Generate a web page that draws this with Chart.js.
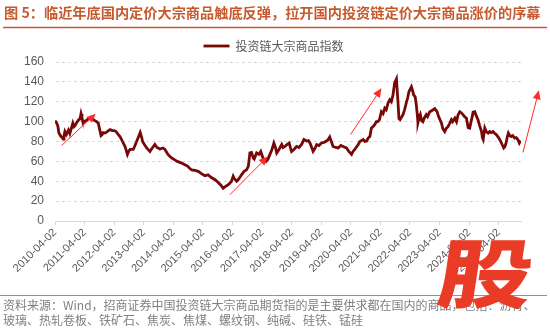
<!DOCTYPE html>
<html>
<head>
<meta charset="utf-8">
<script src="https://cdn.jsdelivr.net/npm/chart.js@4.4.1/dist/chart.umd.min.js"></script>
<style>
  html, body { margin: 0; padding: 0; background: #ffffff; }
  #wrap { position: relative; width: 550px; height: 331px; }
  canvas { display: block; }
</style>
</head>
<body>
<div id="wrap"><canvas id="c" width="550" height="331"></canvas></div>
<script>
// ---- text ----
const titleText = '图 5：临近年底国内定价大宗商品触底反弹，拉开国内投资链定价大宗商品涨价的序幕';
const sourceLines = [
  '资料来源：Wind，招商证券中国投资链大宗商品期货指的是主要供求都在国内的商品，包括：沥青、',
  '玻璃、热轧卷板、铁矿石、焦炭、焦煤、螺纹钢、纯碱、硅铁、锰硅'
];
const seriesName = '投资链大宗商品指数';
const badgeText = '股';

// ---- axes ----
const tickLabels = ['2010-04-02','2011-04-02','2012-04-02','2013-04-02','2014-04-02','2015-04-02',
  '2016-04-02','2017-04-02','2018-04-02','2019-04-02','2020-04-02','2021-04-02','2022-04-02',
  '2023-04-02','2024-04-02','2025-04-02'];
const xStart = '2010-04-02';
const xEnd = '2026-01-02';
const yMin = 0, yMax = 160, yStep = 20;

// ---- index series ----
const dates = [
  '2010-04-02','2010-04-20','2010-05-06','2010-05-20','2010-06-15','2010-07-05','2010-07-12','2010-07-22',
  '2010-08-02','2010-08-20','2010-09-15','2010-10-02','2010-10-20','2010-11-08','2010-11-22','2010-12-05',
  '2010-12-25','2011-01-15','2011-02-05','2011-02-17','2011-03-01','2011-03-15','2011-04-02','2011-04-28',
  '2011-05-25','2011-06-29','2011-07-20','2011-08-08','2011-08-28','2011-09-18','2011-10-03','2011-10-22',
  '2011-11-05','2011-11-17','2011-12-12','2012-01-06','2012-02-11','2012-03-08','2012-04-02','2012-04-25',
  '2012-05-23','2012-06-12','2012-07-02','2012-07-25','2012-08-14','2012-09-12','2012-09-27','2012-10-15',
  '2012-11-24','2012-12-15','2013-01-14','2013-02-17','2013-03-08','2013-03-19','2013-04-10','2013-05-08',
  '2013-06-17','2013-07-12','2013-08-17','2013-09-12','2013-10-20','2013-11-25','2013-12-20','2014-01-26',
  '2014-02-20','2014-03-12','2014-04-20','2014-05-20','2014-06-22','2014-07-17','2014-08-23','2014-09-28',
  '2014-10-20','2014-11-14','2014-12-25','2015-02-04','2015-03-10','2015-04-26','2015-06-05','2015-07-10',
  '2015-08-30','2015-10-05','2015-11-10','2015-12-08','2016-01-20','2016-02-17','2016-03-20','2016-04-10',
  '2016-04-22','2016-05-22','2016-06-10','2016-07-02','2016-07-26','2016-08-23','2016-09-22','2016-10-14',
  '2016-11-03','2016-11-23','2016-12-14','2016-12-26','2017-01-25','2017-02-22','2017-03-17','2017-04-15',
  '2017-05-20','2017-06-12','2017-07-08','2017-08-02','2017-08-26','2017-09-14','2017-09-30','2017-10-28',
  '2017-12-01','2017-12-17','2018-01-10','2018-02-03','2018-03-02','2018-03-17','2018-04-01','2018-04-30',
  '2018-06-02','2018-07-01','2018-08-02','2018-09-01','2018-10-04','2018-10-26','2018-11-14','2018-12-05',
  '2018-12-23','2019-01-15','2019-02-05','2019-03-05','2019-04-05','2019-05-05','2019-06-05','2019-06-27',
  '2019-07-16','2019-08-05','2019-08-26','2019-09-28','2019-10-28','2019-12-01','2019-12-28','2020-02-08',
  '2020-03-08','2020-04-10','2020-04-29','2020-05-20','2020-07-02','2020-07-22','2020-09-02','2020-09-22',
  '2020-10-14','2020-11-02','2020-11-23','2020-12-12','2021-01-02','2021-01-22','2021-02-12','2021-03-02',
  '2021-03-22','2021-04-14','2021-05-05','2021-05-26','2021-06-13','2021-07-05','2021-07-26','2021-08-15',
  '2021-09-05','2021-09-25','2021-10-17','2021-11-05','2021-11-17','2021-12-01','2022-01-06','2022-01-26',
  '2022-02-19','2022-03-05','2022-03-20','2022-04-20','2022-05-05','2022-05-17','2022-06-05','2022-06-19',
  '2022-06-30','2022-07-10','2022-07-25','2022-08-08','2022-08-24','2022-09-08','2022-09-28','2022-10-20',
  '2022-11-05','2022-12-02','2022-12-25','2023-02-02','2023-03-02','2023-03-22','2023-04-26','2023-05-12',
  '2023-06-05','2023-06-22','2023-07-15','2023-08-04','2023-08-26','2023-09-10','2023-10-08','2023-10-28',
  '2023-11-17','2023-12-08','2023-12-25','2024-01-16','2024-02-05','2024-02-28','2024-03-20','2024-04-08',
  '2024-04-25','2024-05-10','2024-05-20','2024-06-10','2024-06-28','2024-07-20','2024-08-09','2024-09-02',
  '2024-09-12','2024-09-22','2024-10-12','2024-10-30','2024-11-23','2024-12-12','2024-12-30','2025-01-23',
  '2025-02-12','2025-03-03','2025-03-22','2025-04-14','2025-05-02','2025-05-20','2025-06-03','2025-06-18',
  '2025-07-02','2025-07-15','2025-07-30','2025-08-15','2025-09-02','2025-09-22','2025-10-15','2025-11-04',
  '2025-11-24','2025-12-12','2025-12-28'
];
const values = [
  101, 99, 96, 88.5, 85, 83.5, 82.5, 86,
  90, 87, 91.5, 88, 93, 98.5, 95, 96,
  99, 101.5, 103, 108, 104, 98.5, 100, 101.5,
  103, 103.5, 102, 101, 100, 98.5, 93, 86,
  87, 89, 88.5, 90, 92, 91, 91, 90,
  87, 85, 82, 78, 75, 67, 70, 72,
  72, 76, 82, 89, 84, 80, 77, 73.5,
  70, 73, 77, 74, 72.5, 73.5, 72, 67,
  65, 63.5, 61.5, 60, 59, 58, 56.5, 55,
  53, 51.5, 51, 50, 48, 45.5, 46.5, 44,
  41.5, 39, 36, 33, 35.5, 37, 40, 45,
  43, 40, 41.5, 44, 47, 50, 51.5, 55,
  68.5, 69, 63.5, 62.5, 68.5, 67, 70, 63,
  60, 62, 67, 72, 78.5, 74, 68.5, 72,
  77, 74, 75, 77, 78.5, 74, 70, 72,
  75, 74, 77, 82, 80.5, 81, 78.5, 74,
  70, 73, 77, 76, 78.5, 79, 80.5, 82,
  84.5, 80, 75, 74, 73.5, 76, 75, 73.5,
  70, 67, 70, 72, 77, 80, 82, 80,
  80.5, 83.5, 85, 93.5, 95, 97, 100, 100,
  102, 110, 108, 113.5, 112, 118.5, 122, 120,
  127, 139, 143, 120, 103, 102, 107, 112,
  120, 124, 130, 135, 131, 127, 125, 117,
  108, 99, 104, 107, 101, 100, 104, 107,
  105, 110, 111, 113, 110, 105, 98.5, 93,
  90, 93, 95, 98, 102, 100, 103.5, 100,
  107, 110, 109, 107, 105, 103.5, 94, 93.5,
  100, 105, 109.5, 110, 106, 102, 96, 90,
  84, 82, 93.5, 90, 88.5, 90, 89, 90,
  88, 87, 85, 82, 79, 76, 73.5, 75,
  78.5, 84, 88.5, 86, 85, 86, 83.5, 84,
  82, 78.5, 81
];

// trend arrows: [from date, from value, to date, to value]
const arrows = [
  ['2010-06-23', 76, '2011-08-17', 108],
  ['2016-03-01', 26.5, '2017-06-12', 65],
  ['2020-03-29', 87, '2021-04-16', 133.5],
  ['2026-01-26', 69, '2026-08-11', 131.5]
];

// ---- colours ----
const lineColor = '#780808';
const accent = '#c65a2e';
const arrowColor = '#ff2a2a';
const gridColor = '#d9d9d9';
const tickColor = '#595959';

// date string -> fractional year
function toYear(s) {
  const [y, m, d] = s.split('-').map(Number);
  const a = Date.UTC(y, 0, 1), b = Date.UTC(y + 1, 0, 1);
  return y + (Date.UTC(y, m - 1, d) - a) / (b - a);
}

const points = dates.map((d, i) => ({ x: toYear(d), y: values[i] }));
const cjk = '"Noto Sans CJK SC", "Noto Sans", sans-serif';
const latin = '"Liberation Sans", Arial, sans-serif';

// title, rules and source note around the plot
const framePlugin = {
  id: 'frame',
  beforeDraw(chart) {
    const ctx = chart.ctx;
    ctx.save();
    ctx.fillStyle = '#ffffff';
    ctx.fillRect(0, 0, chart.width, chart.height);

    // heading
    let size = 14;
    ctx.font = `bold ${size}px ${cjk}`;
    const w = ctx.measureText(titleText).width;
    size = size * 537 / w;
    ctx.font = `bold ${size}px ${cjk}`;
    ctx.fillStyle = accent;
    ctx.textBaseline = 'middle';
    ctx.textAlign = 'left';
    ctx.fillText(titleText, 4, 12.5);

    ctx.strokeStyle = accent;
    ctx.lineWidth = 1.5;
    ctx.beginPath();
    ctx.moveTo(3, 27.5);
    ctx.lineTo(547, 27.5);
    ctx.stroke();

    // source note
    ctx.strokeStyle = '#c9805f';
    ctx.lineWidth = 1;
    ctx.beginPath();
    ctx.moveTo(0, 295.5);
    ctx.lineTo(547, 295.5);
    ctx.stroke();

    ctx.fillStyle = '#808080';
    ctx.font = `12px ${cjk}`;
    ctx.fillText(sourceLines[0], 3, 305);
    ctx.fillText(sourceLines[1], 3, 320);
    ctx.restore();
  },
  afterDatasetsDraw(chart) {
    const ctx = chart.ctx;
    const xs = chart.scales.x, ys = chart.scales.y;
    ctx.save();
    ctx.strokeStyle = arrowColor;
    ctx.fillStyle = arrowColor;
    ctx.lineWidth = 1;
    arrows.forEach(([d0, v0, d1, v1]) => {
      const x0 = xs.getPixelForValue(toYear(d0)), y0 = ys.getPixelForValue(v0);
      const x1 = xs.getPixelForValue(toYear(d1)), y1 = ys.getPixelForValue(v1);
      const ang = Math.atan2(y1 - y0, x1 - x0);
      const len = 9, half = 4;
      const bx = x1 - len * Math.cos(ang), by = y1 - len * Math.sin(ang);
      ctx.beginPath();
      ctx.moveTo(x0, y0);
      ctx.lineTo(bx, by);
      ctx.stroke();
      ctx.beginPath();
      ctx.moveTo(x1, y1);
      ctx.lineTo(bx + half * Math.sin(ang), by - half * Math.cos(ang));
      ctx.lineTo(bx - half * Math.sin(ang), by + half * Math.cos(ang));
      ctx.closePath();
      ctx.fill();
    });
    ctx.restore();
  },
  afterDraw(chart) {
    const ctx = chart.ctx;
    ctx.save();
    ctx.translate(486, 273);
    ctx.transform(1, 0, -0.12, 0.8, 0, 0);
    ctx.font = `900 94px ${cjk}`;
    ctx.fillStyle = '#ea3b26';
    ctx.textAlign = 'center';
    ctx.textBaseline = 'middle';
    ctx.fillText(badgeText, 0, 0);
    ctx.restore();
  }
};

new Chart(document.getElementById('c'), {
  type: 'line',
  data: {
    datasets: [{
      label: seriesName,
      data: points,
      borderColor: lineColor,
      backgroundColor: lineColor,
      borderWidth: 2.8,
      pointRadius: 0,
      tension: 0,
      fill: false,
      yAxisID: 'y'
    }]
  },
  options: {
    responsive: false,
    animation: false,
    devicePixelRatio: 1,
    layout: { padding: { left: 13, right: 16, top: 32, bottom: 43 } },
    plugins: {
      legend: {
        display: true,
        position: 'top',
        align: 'center',
        labels: {
          usePointStyle: true,
          pointStyle: 'line',
          pointStyleWidth: 26,
          padding: 8,
          color: tickColor,
          font: { family: cjk, size: 12 }
        }
      },
      tooltip: { enabled: false }
    },
    scales: {
      x: {
        type: 'linear',
        min: toYear(xStart),
        max: toYear(xEnd),
        afterBuildTicks(scale) {
          scale.ticks = tickLabels.map(l => ({ value: toYear(l) }));
        },
        afterFit(scale) { scale.height = 67; },
        ticks: {
          autoSkip: false,
          minRotation: 45,
          maxRotation: 45,
          padding: 1,
          color: tickColor,
          font: { family: latin, size: 11 },
          callback: (v, i) => tickLabels[i]
        },
        grid: { drawOnChartArea: false, drawTicks: true, tickLength: 4, color: gridColor },
        border: { display: true, color: gridColor, width: 1 }
      },
      y: {
        type: 'linear',
        position: 'left',
        min: yMin,
        max: yMax,
        afterFit(scale) { scale.width = 42; },
        ticks: {
          stepSize: yStep,
          padding: 11,
          color: tickColor,
          font: { family: latin, size: 12 }
        },
        grid: {
          drawTicks: false,
          color: ctx => (ctx.tick && ctx.tick.value === 0 ? 'rgba(0,0,0,0)' : gridColor),
          lineWidth: 1
        },
        border: { display: true, color: 'rgba(0,0,0,0)', dash: [3, 3] }
      },
      yR: {
        type: 'linear',
        position: 'right',
        display: true,
        afterFit(scale) { scale.width = 13; },
        ticks: { display: false },
        grid: { display: false },
        border: { display: false }
      }
    }
  },
  plugins: [framePlugin]
});
</script>
</body>
</html>
